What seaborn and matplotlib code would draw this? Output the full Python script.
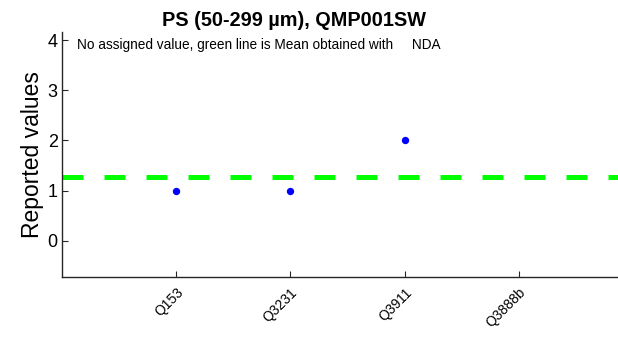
import numpy as np
import pandas as pd
import seaborn as sns
import matplotlib.pyplot as plt

participants = ["Q153", "Q3231", "Q3911", "Q3888b"]
reported = [1.0, 1.0, 2.0, np.nan]
mean_value = 1.27

df = pd.DataFrame({"pos": np.arange(1, len(participants) + 1), "value": reported})

sns.set_style("ticks")
plt.rcParams["font.family"] = ["Liberation Sans", "DejaVu Sans"]
plt.rcParams["text.color"] = "black"
plt.rcParams["xtick.color"] = "#262626"
plt.rcParams["ytick.color"] = "#262626"
plt.rcParams["xtick.labelcolor"] = "black"
plt.rcParams["ytick.labelcolor"] = "black"
plt.rcParams["axes.labelcolor"] = "black"

fig = plt.figure(figsize=(6.18, 3.37), dpi=100)
ax = fig.add_axes([62 / 618, 60 / 337, 571 / 618, 245 / 337])

ax.axhline(mean_value, color="#00ff00", lw=3.6, dashes=(4.2, 4.2), zorder=1)
sns.scatterplot(data=df, x="pos", y="value", color="blue", s=28,
                edgecolor="blue", linewidth=0, ax=ax, zorder=3)

ax.set_xlim(0, 5)
ax.set_ylim(-0.72, 4.16)
ax.set_yticks([0, 1, 2, 3, 4])
ax.set_xticks(df["pos"])
ax.set_xticklabels(participants, rotation=45, ha="right", rotation_mode="anchor", fontsize=10)
ax.tick_params(axis="y", direction="in", labelsize=13, length=4, width=0.8, pad=3)
ax.tick_params(axis="x", direction="in", length=4, width=0.8, pad=6)
ax.set_xlabel("")
ax.set_ylabel("Reported values", fontsize=16.5, labelpad=3)
sns.despine(ax=ax)
for s in ["left", "bottom"]:
    ax.spines[s].set_color("#262626")
    ax.spines[s].set_linewidth(1.0)

fig.text(294 / 618, 1 - 21 / 337, "PS (50-299 µm), QMP001SW", ha="center", va="center",
         fontsize=14.3, fontweight="bold")
ax.text(77 / 618, 1 - 45 / 337, "No assigned value, green line is Mean obtained with     NDA",
        transform=fig.transFigure, ha="left", va="center", fontsize=9.8)

fig.savefig("out.png", dpi=100)
